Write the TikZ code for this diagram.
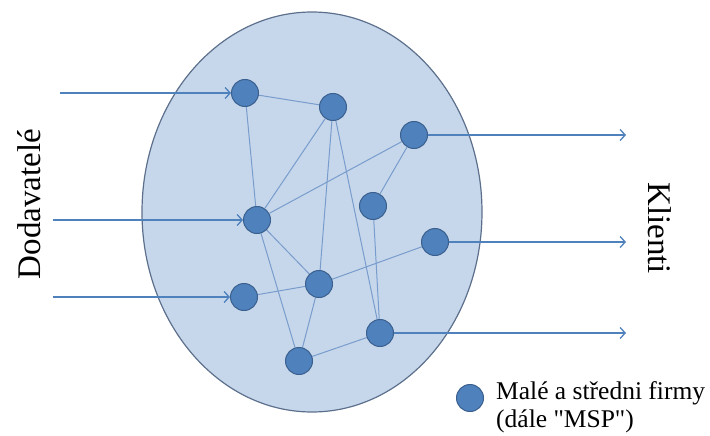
\documentclass[tikz,border=0pt]{standalone}
\usepackage{fontspec}
\setmainfont{Liberation Serif}
\usetikzlibrary{positioning,backgrounds,arrows.meta}
\definecolor{firmblue}{RGB}{79,129,189}
\definecolor{firmedge}{RGB}{58,96,142}
\definecolor{linkblue}{RGB}{120,156,204}
\definecolor{poolfill}{RGB}{199,215,235}
\definecolor{pooledge}{RGB}{92,112,140}
\tikzset{
  firm/.style={circle, fill=firmblue, draw=firmedge, line width=1pt, minimum size=27pt, inner sep=0pt},
  link/.style={linkblue, line width=1pt},
  flow/.style={-{Straight Barb[length=5pt,width=11pt]}, firmblue, line width=1.3pt},
  side/.style={font=\fontsize{33}{36}\selectfont}
}
\begin{document}
\begin{tikzpicture}[x=1pt,y=-1pt]
\useasboundingbox (0,0) rectangle (710,436);

\node [side, rotate=90] (dodav) at (29,204) {Dodavatelé};
\node [side, rotate=-90] (klienti) at (660,228) {Klienti};

% firms
\node [firm] (a) at (245,93) {};
\node [firm] (b) at (333,107) {};
\node [firm] (c) at (414,135) {};
\node [firm] (d) at (373,206) {};
\node [firm] (e) at (257,220) {};
\node [firm] (f) at (435,242) {};
\node [firm] (g) at (319,284) {};
\node [firm] (h) at (244,297) {};
\node [firm] (i) at (380,333) {};
\node [firm] (j) at (299,361) {};

\begin{scope}[on background layer]
\draw [pooledge, fill=poolfill, line width=1.2pt] (312,212) ellipse (170 and 200);
\foreach \u/\v in {a/b,a/e,b/e,b/g,b/i,c/e,c/d,d/i,e/g,e/j,g/h,g/f,g/j,j/i}
  {\draw [link] (\u) -- (\v);}
\end{scope}

% suppliers in, clients out
\coordinate (in1) at (60,93);
\coordinate (in2) at (53,220);
\coordinate (in3) at (53,297);
\coordinate (out1) at (626,135);
\coordinate (out2) at (626,242);
\coordinate (out3) at (626,333);
\draw [flow] (in1) -- (a);
\draw [flow] (in2) -- (e);
\draw [flow] (in3) -- (h);
\draw [flow] (c) -- (out1);
\draw [flow] (f) -- (out2);
\draw [flow] (i) -- (out3);

% legend
\node [firm] (legdot) at (470,398) {};
\node [right=12pt of legdot, yshift=-9pt, align=left, inner sep=0pt,
  font=\fontsize{25.5}{28}\selectfont] (legtext) {Malé a středni firmy\\(dále \textquotedbl MSP\textquotedbl)};
\end{tikzpicture}
\end{document}
